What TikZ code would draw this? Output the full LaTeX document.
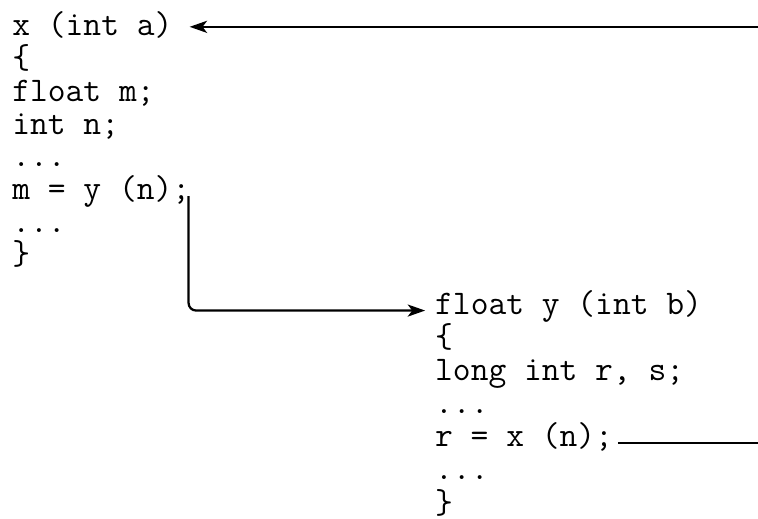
\documentclass[tikz,border=0pt]{standalone}
\usepackage{tikz}
\usetikzlibrary{arrows.meta}

\begin{document}
\begin{tikzpicture}[code/.style={font=\ttfamily\fontsize{26}{30}\selectfont,inner sep=0,anchor=base west,text height=0.72em,text depth=0.2em},
  link/.style={line width=1.7pt},
  call/.style={link,-{Stealth[length=4.6mm,width=3.2mm,inset=1.2mm]}}]
\useasboundingbox (0,0) rectangle (20.06,-13.73);
% calling function
\node[code] (xhead) at (0.32,-0.95) {x (int a)};
\node[code] (xopen) at (0.32,-1.82) {\{};
\node[code] (xdecm) at (0.32,-2.68) {float m;};
\node[code] (xdecn) at (0.32,-3.55) {int n;};
\node[code] (xdots) at (0.32,-4.41) {...};
\node[code] (ycall) at (0.32,-5.28) {m = y (n);};
\node[code] (xmore) at (0.32,-6.14) {...};
\node[code] (xclose) at (0.32,-7.01) {\}};
% called function
\node[code] (yhead) at (11.51,-8.31) {float y (int b)};
\node[code] (yopen) at (11.51,-9.19) {\{};
\node[code] (ydecl) at (11.51,-10.07) {long int r, s;};
\node[code] (ydots) at (11.51,-10.94) {...};
\node[code] (xcall) at (11.51,-11.82) {r = x (n);};
\node[code] (ymore) at (11.51,-12.70) {...};
\node[code] (yclose) at (11.51,-13.58) {\}};
% calls run off to the right edge
\coordinate (xin) at (20.06,-0.71);
\coordinate (xout) at (20.06,0);
\draw[call,shorten >=0.45cm] (xin) -- (xin -| xhead.east);
\draw[call,rounded corners=0.2cm,shorten >=0.26cm] ([xshift=-0.05cm]ycall.east) |- (yhead.west);
\draw[link,shorten <=0.12cm] (xcall.east) -- (xcall.east -| xout);
\end{tikzpicture}
\end{document}
